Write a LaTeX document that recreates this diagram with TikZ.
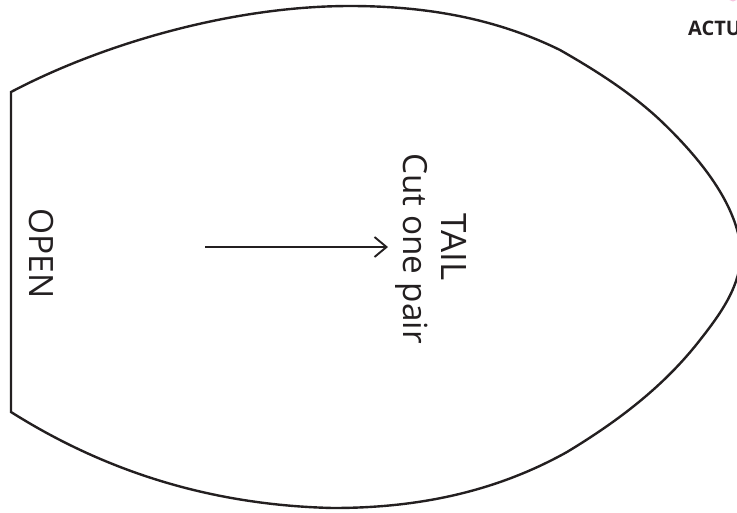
\documentclass[tikz,border=0pt]{standalone}
\usepackage{fontspec}
\setmainfont{Open Sans}
\usetikzlibrary{positioning}
\usetikzlibrary{arrows.meta}

\definecolor{inkblack}{HTML}{231F20}
\definecolor{markpink}{HTML}{F7C6E0}

\begin{document}
\begin{tikzpicture}[
                          x=1pt, y=-1pt,
                          outline/.style={draw=inkblack, line width=2.4pt, line join=miter},
                          pointer/.style={draw=inkblack, line width=1.9pt, -{Straight Barb[length=12pt, width=20pt, line width=1.9pt]}},
                          turned/.style={rotate=-90, anchor=base, text=inkblack, inner sep=0pt},
                      ]
                      \useasboundingbox (0,0) rectangle (737,512);
                      \clip (0,0) rectangle (737,512);

                      %Outline
                      \draw[outline] (11,92)
                          .. controls (100,45) and (230,6) .. (350,6)
                          .. controls (425,6) and (495,18) .. (560,50)
                          .. controls (595,70) and (630,92) .. (660,120)
                          .. controls (700,158) and (738,205) .. (741,252)
                          .. controls (741,285) and (722,312) .. (700,340)
                          .. controls (665,385) and (620,420) .. (567,452)
                          .. controls (490,495) and (410,508) .. (333,508)
                          .. controls (200,505) and (95,465) .. (11,412)
                          -- cycle;

                      %Nodes
                      \node[turned, font=\fontsize{33.5}{38}\selectfont] (open) at (29,253.5)  {OPEN};
                      \node[turned, font=\fontsize{35}{40}\selectfont]   (tail) at (441,247)   {TAIL};
                      \node[turned, font=\fontsize{33.3}{38}\selectfont] (cut)  at (403,248.5) {Cut one pair};
                      \node[inner sep=0pt, text=inkblack, anchor=base west, font=\bfseries\fontsize{20}{24}\selectfont] (actu) at (688,35) {ACTU};
                      \coordinate                (start) at (205,247);
                      \coordinate                (stop)  at (388,247);

                      %Lines
                      \draw[pointer] (start) -- (stop);
                      \fill[markpink] (733,-4) circle (5.5);
                  \end{tikzpicture}
\end{document}
